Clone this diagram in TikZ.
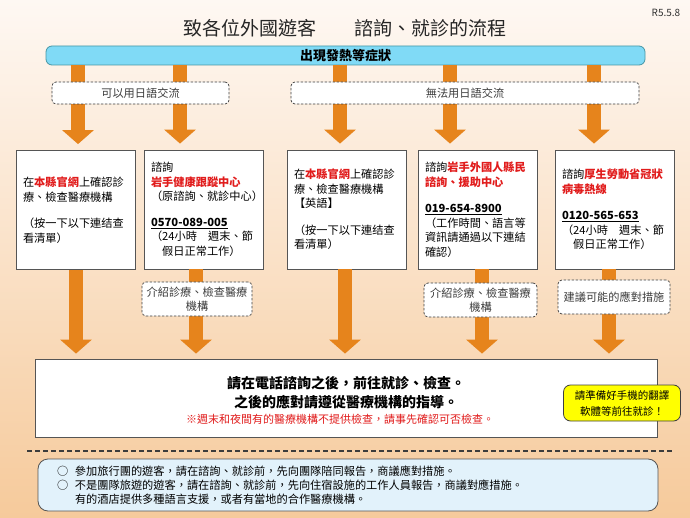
\documentclass[tikz,border=0pt]{standalone}
\usepackage{fontspec}
\setmainfont{Noto Sans CJK TC}
\usetikzlibrary{arrows.meta}
\definecolor{orng}{RGB}{230,132,28}
\definecolor{bgtop}{RGB}{254,248,243}
\definecolor{bgbot}{RGB}{246,202,155}
\definecolor{boxc}{RGB}{85,85,85}
\definecolor{dgray}{RGB}{60,60,60}
\definecolor{redc}{RGB}{225,28,28}
\definecolor{barfill}{RGB}{128,218,246}
\definecolor{barline}{RGB}{70,150,165}
\definecolor{notefill}{RGB}{226,242,251}
\definecolor{yel}{RGB}{255,255,0}
\newcommand\redb[1]{\textcolor{redc}{\bfseries #1}}
\tikzset{
  infobox/.style={draw=boxc, fill=white, line width=0.8pt, minimum width=119pt,
    minimum height=119pt, text width=105pt, inner xsep=7pt, align=left,
    font=\fontsize{11.2}{14.5}\selectfont},
  dbox/.style={draw=dgray, fill=white, dashed, dash pattern=on 2.5pt off 1.5pt,
    line width=0.7pt, rounded corners=4pt, text=dgray, align=center, inner sep=0pt,
    font=\fontsize{11.2}{14}\selectfont},
  barrow/.style={draw=orng, line width=14pt, line cap=butt,
    -{Triangle[length=14pt,width=31pt]}},
}
\begin{document}
\begin{tikzpicture}[x=1pt,y=-1pt]
\useasboundingbox (0,0) rectangle (690,518);
\shade[top color=bgtop,bottom color=bgbot] (0,0) rectangle (690,518);

% title
\node[font=\fontsize{19}{22}\selectfont, text=black!85] (title) at (345,28) {致各位外國遊客\quad\quad 諮詢、就診的流程};
\node[font=\fontsize{10}{12}\selectfont, text=black!80] (ver) at (666,13) {R5.5.8};

% top bar
\node[draw=barline, fill=barfill, line width=0.8pt, rounded corners=6pt,
  minimum width=599pt, minimum height=19pt, inner sep=0pt,
  font=\fontsize{13}{15}\selectfont\bfseries] (bar) at (345.5,55.5) {出現發熱等症狀};

% boxes
\node[infobox] (box1) at (75.5,210) {在\redb{本縣官網}上確認診\\療、檢查醫療機構\\[12pt]（按一下以下連结查\\看清單）};
\node[infobox] (box2) at (203.5,209.5) {諮詢\\\redb{岩手健康跟蹤中心}\\（原諮詢、就診中心）\\[11pt]\underline{\textbf{0570-089-005}}\\（24小時　週末、節\\　假日正常工作）};
\node[infobox] (box3) at (346.5,209.5) {在\redb{本縣官網}上確認診\\療、檢查醫療機構\\【英語】\\[12pt]（按一下以下連结查\\看清單）};
\node[infobox] (box4) at (477.5,209.5) {諮詢\redb{岩手外國人縣民}\\\redb{諮詢、援助中心}\\[12pt]\underline{\textbf{019-654-8900}}\\（工作時間、語言等\\資訊請通過以下連結\\確認）};
\node[infobox] (box5) at (614.5,209.5) {諮詢\redb{厚生勞動省冠狀}\\\redb{病毒熱線}\\[12pt]\underline{\textbf{0120-565-653}}\\（24小時　週末、節\\　假日正常工作）};

% main box
\node[draw=boxc, fill=white, line width=0.8pt, minimum width=622pt, minimum height=78pt] (main) at (346,398) {};
\node[font=\fontsize{14}{19}\selectfont\bfseries, align=center] (msg) at (346,392.5) {請在電話諮詢之後，前往就診、檢查。\\之後的應對請遵從醫療機構的指導。};
\node[font=\fontsize{11}{13}\selectfont, text=redc] (warn) at (340,419) {※週末和夜間有的醫療機構不提供檢查，請事先確認可否檢查。};

% arrow coordinates
\coordinate (ta1) at (78,0);
\coordinate (ta2) at (180,0);
\coordinate (ta3) at (340,0);
\coordinate (ta4) at (450,0);
\coordinate (ta5) at (594,0);
\coordinate (ba1) at (76,0);
\coordinate (ba2) at (196,0);
\coordinate (ba3) at (345,0);
\coordinate (ba4) at (482,0);
\coordinate (ba5) at (609,0);

\draw[barrow, shorten >=6pt] (bar.south -| ta1) -- (box1.north -| ta1);
\draw[barrow, shorten >=6pt] (bar.south -| ta2) -- (box2.north -| ta2);
\draw[barrow, shorten >=6pt] (bar.south -| ta3) -- (box3.north -| ta3);
\draw[barrow, shorten >=6pt] (bar.south -| ta4) -- (box4.north -| ta4);
\draw[barrow, shorten >=6pt] (bar.south -| ta5) -- (box5.north -| ta5);

\draw[barrow, shorten >=5pt] (box1.south -| ba1) -- (main.north -| ba1);
\draw[barrow, shorten >=5pt] (box2.south -| ba2) -- (main.north -| ba2);
\draw[barrow, shorten >=5pt] (box3.south -| ba3) -- (main.north -| ba3);
\draw[barrow, shorten >=5pt] (box4.south -| ba4) -- (main.north -| ba4);
\draw[barrow, shorten >=5pt] (box5.south -| ba5) -- (main.north -| ba5);

% dashed boxes
\node[dbox, minimum width=177pt, minimum height=22pt] (jp) at (140.5,93) {可以用日語交流};
\node[dbox, minimum width=348pt, minimum height=22pt] (nojp) at (465,93) {無法用日語交流};
\node[dbox, minimum width=110pt, minimum height=34pt] (d1) at (197,299) {介紹診療、檢查醫療\\機構};
\node[dbox, minimum width=113pt, minimum height=34pt] (d2) at (480.5,300) {介紹診療、檢查醫療\\機構};
\node[dbox, minimum width=112pt, minimum height=34pt] (d3) at (614,297) {建議可能的應對措施};

% yellow callout
\node[draw=black!75, fill=yel, line width=0.8pt, rounded corners=7pt,
  minimum width=117pt, minimum height=36pt, inner sep=0pt, align=center,
  font=\fontsize{10.5}{16}\selectfont] (tip) at (622,403) {請準備好手機的翻譯\\軟體等前往就診！};

% separator
\coordinate (sepL) at (27,451);
\coordinate (sepR) at (672,451);
\draw[dgray, line width=2pt, dash pattern=on 5pt off 3pt] (sepL) -- (sepR);

% bottom note
\node[draw=boxc, fill=notefill, line width=0.8pt, rounded corners=10pt,
  minimum width=620pt, minimum height=52pt, text width=582pt, inner xsep=19pt,
  align=left, font=\fontsize{11.2}{14}\selectfont] (note) at (348,485)
  {\makebox[18pt][l]{○}參加旅行團的遊客，請在諮詢、就診前，先向團隊陪同報告，商議應對措施。\\
   \makebox[18pt][l]{○}不是團隊旅遊的遊客，請在諮詢、就診前，先向住宿設施的工作人員報告，商議對應措施。\\
   \hspace*{18pt}有的酒店提供多種語言支援，或者有當地的合作醫療機構。};
\end{tikzpicture}
\end{document}
